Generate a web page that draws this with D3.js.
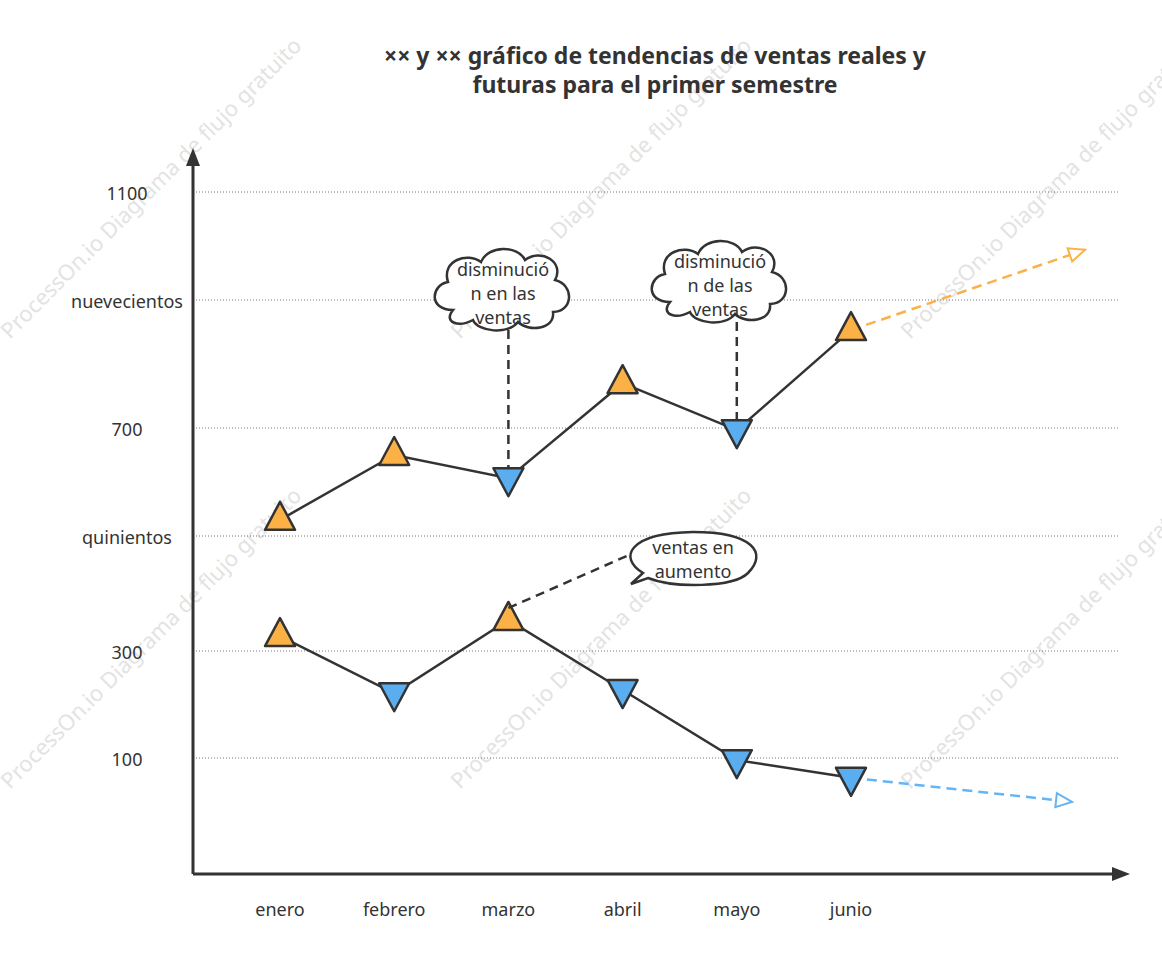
<!DOCTYPE html>
<html lang="es">
<head>
<meta charset="UTF-8">
<title>Tendencias de ventas</title>
<script src="https://d3js.org/d3.v7.min.js"></script>
<style>
  body { margin: 0; background: #fff; font-family: "Noto Sans", "Open Sans", sans-serif; }
</style>
</head>
<body>
<svg id="chart" width="1162" height="962"></svg>
<script>
// data
const months = ["enero", "febrero", "marzo", "abril", "mayo", "junio"];
const tickValues = [1100, 900, 700, 500, 300, 100];
const tickLabels = ["1100", "nuevecientos", "700", "quinientos", "300", "100"];
const upperSales = [530, 650, 607, 770, 696, 853];
const upperMarks = ["up", "up", "down", "up", "down", "up"];
const upperFuture = 993;
const lowerSales = [326, 221, 354, 227, 96, 63];
const lowerMarks = ["up", "down", "up", "down", "down", "down"];
const lowerFuture = 18;

const orange = "#FBB146", blue = "#5AAEF0", ink = "#333";
const svg = d3.select("#chart");

// watermark
const wm = svg.append("g").attr("fill", "#e3e3e3").attr("font-size", 22);
[[10, 340], [460, 340], [910, 340], [10, 790], [460, 790], [910, 790]].forEach(([x, y]) => {
  wm.append("text").attr("transform", `translate(${x},${y}) rotate(-45)`).text("ProcessOn.io Diagrama de flujo gratuito");
});

const x = d3.scalePoint().domain(months).range([280, 851]);
// the gridlines in the original are not evenly spaced
const y = d3.scaleLinear().domain([100, 300, 500, 700, 900, 1100]).range([758, 651, 536, 428, 300, 192]);

// title
svg.append("text").attr("x", 655).attr("y", 64).attr("text-anchor", "middle")
  .attr("font-size", 23).attr("font-weight", "bold").attr("fill", ink)
  .text("×× y ×× gráfico de tendencias de ventas reales y");
svg.append("text").attr("x", 655).attr("y", 93).attr("text-anchor", "middle")
  .attr("font-size", 23).attr("font-weight", "bold").attr("fill", ink)
  .text("futuras para el primer semestre");

// grid
svg.append("g").selectAll("line").data(tickValues).join("line")
  .attr("x1", 193).attr("x2", 1118).attr("y1", d => y(d)).attr("y2", d => y(d))
  .attr("stroke", "#777").attr("stroke-dasharray", "1,2");
svg.append("g").selectAll("text").data(tickValues).join("text")
  .attr("x", 127).attr("y", d => y(d) + 8).attr("text-anchor", "middle")
  .attr("font-size", 18).attr("fill", ink).text((d, i) => tickLabels[i]);
svg.append("g").selectAll("text").data(months).join("text")
  .attr("x", d => x(d)).attr("y", 916).attr("text-anchor", "middle")
  .attr("font-size", 18).attr("fill", ink).text(d => d);

// axes
svg.append("line").attr("x1", 193).attr("y1", 874).attr("x2", 193).attr("y2", 160).attr("stroke", ink).attr("stroke-width", 3);
svg.append("path").attr("d", "M193,148 L186,166 L200,166 Z").attr("fill", ink);
svg.append("line").attr("x1", 193).attr("y1", 874).attr("x2", 1115).attr("y2", 874).attr("stroke", ink).attr("stroke-width", 3);
svg.append("path").attr("d", "M1130,874 L1112,867 L1112,881 Z").attr("fill", ink);

const line = d3.line().x((d, i) => x(months[i])).y(d => y(d));

function series(vals, marks, future, futX, futColor) {
  const last = vals.length - 1;
  svg.append("line").attr("x1", x(months[last])).attr("y1", y(vals[last]))
    .attr("x2", futX).attr("y2", y(future)).attr("stroke", futColor)
    .attr("stroke-width", 2.5).attr("stroke-dasharray", "10,6");
  const ang = Math.atan2(y(future) - y(vals[last]), futX - x(months[last])) * 180 / Math.PI;
  svg.append("path").attr("d", "M0,0 L-16,-7 L-16,7 Z")
    .attr("transform", `translate(${futX},${y(future)}) rotate(${ang})`)
    .attr("fill", "#fff").attr("stroke", futColor).attr("stroke-width", 2);
  svg.append("path").datum(vals).attr("d", line).attr("fill", "none").attr("stroke", ink).attr("stroke-width", 2.5);
  svg.append("g").selectAll("path").data(vals).join("path")
    .attr("d", (d, i) => marks[i] === "up" ? "M0,-18 L15,10 L-15,10 Z" : "M0,18 L15,-10 L-15,-10 Z")
    .attr("transform", (d, i) => `translate(${x(months[i])},${y(d)})`)
    .attr("fill", (d, i) => marks[i] === "up" ? orange : blue)
    .attr("stroke", ink).attr("stroke-width", 2.5).attr("stroke-linejoin", "round");
}
series(upperSales, upperMarks, upperFuture, 1085, orange);
series(lowerSales, lowerMarks, lowerFuture, 1072, "#64B5F6");

// callouts
function cloud(cx, cy, lines, target) {
  svg.append("line").attr("x1", target[0]).attr("y1", cy + 40).attr("x2", target[0]).attr("y2", target[1])
    .attr("stroke", ink).attr("stroke-width", 2.5).attr("stroke-dasharray", "9,6");
  const g = svg.append("g").attr("transform", `translate(${cx},${cy})`);
  g.append("path").attr("d",
    "M-50,20 C-75,20 -72,-5 -55,-8 C-62,-30 -35,-38 -22,-28 C-15,-45 15,-45 22,-30 C38,-42 62,-28 52,-10 C72,-5 70,22 50,22 C52,40 25,42 15,32 C5,45 -25,42 -30,30 C-45,38 -60,32 -50,20 Z")
    .attr("fill", "#fff").attr("stroke", ink).attr("stroke-width", 2.5);
  lines.forEach((t, i) => g.append("text").attr("y", -14 + i * 24).attr("text-anchor", "middle")
    .attr("font-size", 18).attr("fill", ink).text(t));
}
cloud(503, 290, ["disminució", "n en las", "ventas"], [x(months[2]), y(upperSales[2]) - 10]);
cloud(720, 282, ["disminució", "n de las", "ventas"], [x(months[4]), y(upperSales[4]) - 10]);

svg.append("line").attr("x1", x(months[2])).attr("y1", y(lowerSales[2]) - 12).attr("x2", 645).attr("y2", 548)
  .attr("stroke", ink).attr("stroke-width", 2.5).attr("stroke-dasharray", "9,6");
const b = svg.append("g").attr("transform", "translate(693,558)");
b.append("path").attr("d", "M-50,15 C-75,0 -65,-25 0,-26 C60,-26 75,-5 55,15 C40,30 -20,30 -45,20 L-62,26 Z")
  .attr("fill", "#fff").attr("stroke", ink).attr("stroke-width", 2.5);
b.append("text").attr("y", -4).attr("text-anchor", "middle").attr("font-size", 18).attr("fill", ink).text("ventas en");
b.append("text").attr("y", 20).attr("text-anchor", "middle").attr("font-size", 18).attr("fill", ink).text("aumento");
</script>
</body>
</html>
